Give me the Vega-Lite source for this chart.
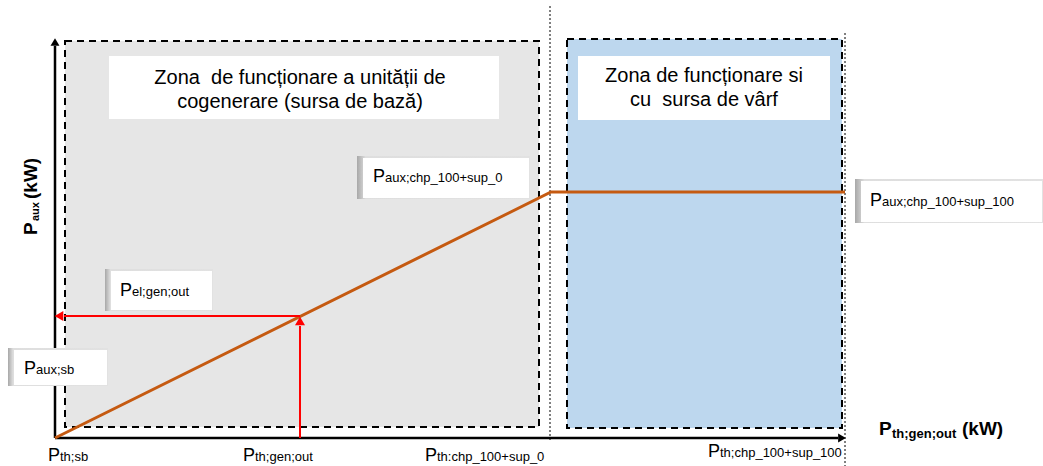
{
  "$schema": "https://vega.github.io/schema/vega-lite/v6.json",
  "width": 1043,
  "height": 466,
  "padding": 0,
  "autosize": "none",
  "background": "white",
  "config": {"view": {"stroke": null}, "text": {"font": "Liberation Sans"}},
  "datasets": {
    "zones": [
      {"zone": "base", "x": 65, "x2": 539, "y": 425, "y2": 39},
      {"zone": "peak", "x": 567, "x2": 842, "y": 427, "y2": 38}
    ],
    "titleBoxes": [
      {"x": 109, "x2": 499, "y": 410, "y2": 347},
      {"x": 578, "x2": 830, "y": 410, "y2": 346}
    ],
    "titles": [
      {"x": 300, "y": 388, "text": "Zona\u00a0 de funcționare a unității de\ncogenerare (sursa de bază)"},
      {"x": 704, "y": 390, "text": "Zona de funcționare si\ncu\u00a0 sursa de vârf"}
    ],
    "dotted": [
      {"x": 550, "x2": 550, "y": 460, "y2": 26},
      {"x": 845, "x2": 845, "y": 433, "y2": 0}
    ],
    "axes": [
      {"x": 55, "x2": 55, "y": 28, "y2": 420},
      {"x": 55, "x2": 838, "y": 28, "y2": 28}
    ],
    "axisHeads": [
      {"x": 55, "y": 424, "dir": "up"},
      {"x": 842, "y": 28, "dir": "right"}
    ],
    "curve": [
      {"x": 55, "y": 28, "i": 0},
      {"x": 551, "y": 274, "i": 1},
      {"x": 845, "y": 274, "i": 2}
    ],
    "redArrows": [
      {"x": 300, "x2": 64, "y": 150, "y2": 150},
      {"x": 300, "x2": 300, "y": 28, "y2": 140}
    ],
    "redHeads": [
      {"x": 59, "y": 150, "dir": "left"},
      {"x": 300, "y": 145, "dir": "up"}
    ],
    "boxes": [
      {"x": 8, "x2": 108, "y": 118, "y2": 80},
      {"x": 105, "x2": 213, "y": 197, "y2": 155},
      {"x": 357, "x2": 530, "y": 310, "y2": 267},
      {"x": 855, "x2": 1043, "y": 287, "y2": 243}
    ],
    "labels": [
      {"x": 24, "y": 92, "sub": "aux;sb"},
      {"x": 120, "y": 170, "sub": "el;gen;out"},
      {"x": 373, "y": 284, "sub": "aux;chp_100+sup_0"},
      {"x": 870, "y": 260, "sub": "aux;chp_100+sup_100"},
      {"x": 48, "y": 5, "sub": "th;sb"},
      {"x": 243, "y": 5, "sub": "th;gen;out"},
      {"x": 425, "y": 5, "sub": "th:chp_100+sup_0"},
      {"x": 708, "y": 9, "sub": "th;chp_100+sup_100"}
    ]
  },
  "encoding": {
    "x": {"field": "x", "type": "quantitative", "scale": {"domain": [0, 1043], "nice": false, "zero": false}, "axis": null},
    "y": {"field": "y", "type": "quantitative", "scale": {"domain": [0, 466], "nice": false, "zero": false}, "axis": null}
  },
  "layer": [
    {
      "data": {"name": "zones"},
      "mark": {"type": "rect", "stroke": "black", "strokeWidth": 2, "strokeDash": [7, 5], "opacity": 1, "fillOpacity": 1},
      "encoding": {
        "x2": {"field": "x2"},
        "y2": {"field": "y2"},
        "color": {"field": "zone", "type": "nominal", "scale": {"domain": ["base", "peak"], "range": ["#e6e6e6", "#bdd7ee"]}, "legend": null}
      }
    },
    {
      "data": {"name": "titleBoxes"},
      "mark": {"type": "rect", "color": "white", "opacity": 1},
      "encoding": {"x2": {"field": "x2"}, "y2": {"field": "y2"}}
    },
    {
      "data": {"name": "titles"},
      "mark": {"type": "text", "fontSize": 20, "align": "center", "baseline": "middle", "lineBreak": "\n", "lineHeight": 24, "color": "black"},
      "encoding": {"text": {"field": "text"}}
    },
    {
      "data": {"name": "dotted"},
      "mark": {"type": "rule", "color": "black", "strokeWidth": 1, "strokeDash": [2, 2]},
      "encoding": {"x2": {"field": "x2"}, "y2": {"field": "y2"}}
    },
    {
      "data": {"name": "axes"},
      "mark": {"type": "rule", "color": "black", "strokeWidth": 2.5},
      "encoding": {"x2": {"field": "x2"}, "y2": {"field": "y2"}}
    },
    {
      "data": {"name": "axisHeads"},
      "mark": {"type": "point", "filled": true, "color": "black", "opacity": 1, "size": 80},
      "encoding": {
        "shape": {"field": "dir", "type": "nominal", "scale": {"domain": ["up", "left", "right"], "range": ["triangle-up", "triangle-left", "triangle-right"]}, "legend": null}
      }
    },
    {
      "data": {"name": "curve"},
      "mark": {"type": "line", "color": "#c55a11", "strokeWidth": 3},
      "encoding": {"order": {"field": "i", "type": "quantitative"}}
    },
    {
      "data": {"name": "redArrows"},
      "mark": {"type": "rule", "color": "#ff0000", "strokeWidth": 2},
      "encoding": {"x2": {"field": "x2"}, "y2": {"field": "y2"}}
    },
    {
      "data": {"name": "redHeads"},
      "mark": {"type": "point", "filled": true, "color": "#ff0000", "opacity": 1, "size": 100},
      "encoding": {
        "shape": {"field": "dir", "type": "nominal", "scale": {"domain": ["up", "left", "right"], "range": ["triangle-up", "triangle-left", "triangle-right"]}, "legend": null}
      }
    },
    {
      "data": {"name": "boxes"},
      "mark": {"type": "rect", "opacity": 1, "color": {"gradient": "linear", "x1": 0, "y1": 0, "x2": 1, "y2": 0, "stops": [{"offset": 0, "color": "#a8a8a8"}, {"offset": 0.05, "color": "#dedede"}, {"offset": 1, "color": "#e2e2e2"}]}},
      "encoding": {"x2": {"field": "x2"}, "y2": {"field": "y2"}}
    },
    {
      "data": {"name": "boxes"},
      "mark": {"type": "rect", "color": "white", "opacity": 1, "xOffset": 6, "x2Offset": -1, "yOffset": 2, "y2Offset": -1},
      "encoding": {"x2": {"field": "x2"}, "y2": {"field": "y2"}}
    },
    {
      "data": {"name": "labels"},
      "mark": {"type": "text", "text": "P", "fontSize": 18, "align": "left", "baseline": "alphabetic", "color": "black"}
    },
    {
      "data": {"name": "labels"},
      "mark": {"type": "text", "fontSize": 13, "align": "left", "baseline": "alphabetic", "color": "black", "dx": 12, "dy": 0},
      "encoding": {"text": {"field": "sub"}}
    },
    {
      "data": {"values": [{"x": 879, "y": 31, "t": "P"}, {"x": 962, "y": 31, "t": "(kW)"}]},
      "mark": {"type": "text", "fontSize": 19, "fontWeight": "bold", "align": "left", "baseline": "alphabetic", "color": "black"},
      "encoding": {"text": {"field": "t"}}
    },
    {
      "data": {"values": [{"x": 892, "y": 28, "t": "th;gen;out"}]},
      "mark": {"type": "text", "fontSize": 13, "fontWeight": "bold", "align": "left", "baseline": "alphabetic", "color": "black"},
      "encoding": {"text": {"field": "t"}}
    },
    {
      "data": {"values": [{"x": 37, "y": 231, "t": "P"}, {"x": 37, "y": 267, "t": "(kW)"}]},
      "mark": {"type": "text", "fontSize": 19, "fontWeight": "bold", "align": "left", "baseline": "alphabetic", "angle": 270, "color": "black"},
      "encoding": {"text": {"field": "t"}}
    },
    {
      "data": {"values": [{"x": 39, "y": 245, "t": "aux"}]},
      "mark": {"type": "text", "fontSize": 11, "fontWeight": "bold", "align": "left", "baseline": "alphabetic", "angle": 270, "color": "black"},
      "encoding": {"text": {"field": "t"}}
    }
  ]
}
